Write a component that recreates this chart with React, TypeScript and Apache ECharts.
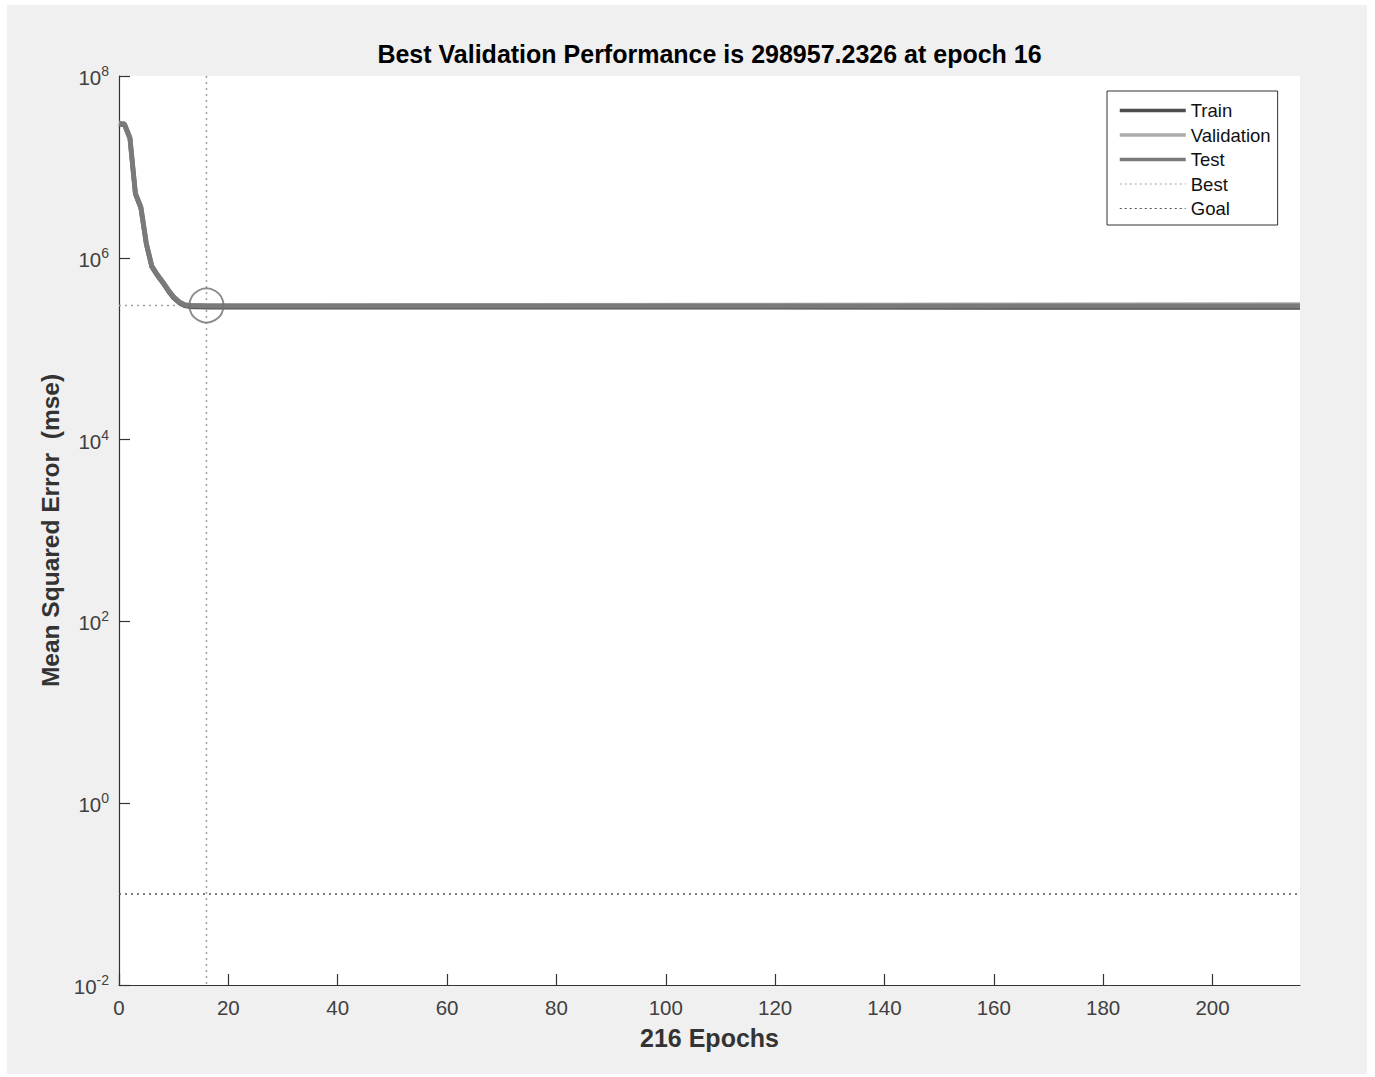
import React, { useEffect, useRef } from "react";
import * as echarts from "echarts";

// ---- data ----
const epochs = [0, 1, 2, 3, 4, 5, 6, 7, 8, 9, 10, 11, 12, 13, 14, 15, 16, 216];
const trainMse = [2.95e7, 2.9e7, 2.05e7, 5.0e6, 3.5e6, 1.4e6, 7.9e5, 6.4e5, 5.3e5, 4.3e5, 3.6e5, 3.2e5, 2.96e5, 2.9e5, 2.88e5, 2.87e5, 2.86e5, 2.84e5];
const validationMse = [3.05e7, 3.0e7, 2.12e7, 5.2e6, 3.65e6, 1.46e6, 8.2e5, 6.6e5, 5.5e5, 4.5e5, 3.75e5, 3.3e5, 3.06e5, 3.01e5, 2.995e5, 2.992e5, 298957.2326, 3.06e5];
const testMse = [3.0e7, 2.95e7, 2.08e7, 5.1e6, 3.6e6, 1.43e6, 8.1e5, 6.5e5, 5.4e5, 4.4e5, 3.7e5, 3.27e5, 3.03e5, 2.97e5, 2.96e5, 2.96e5, 2.95e5, 2.95e5];
const bestEpoch = 16;
const bestPerformance = 298957.2326;
const goalMse = 0.1;
const totalEpochs = 216;
const xTicks = [0, 20, 40, 60, 80, 100, 120, 140, 160, 180, 200];
const yMin = 0.01;
const yMax = 1e8;
const legendNames = ["Train", "Validation", "Test", "Best", "Goal"];
const titleText = `Best Validation Performance is ${bestPerformance.toFixed(4)} at epoch ${bestEpoch}`;

const FONT = "'Liberation Sans', Arial, Helvetica, sans-serif";
const AXIS = "#333333";
const C_TRAIN = "#4d4d4d";
const C_VAL = "#ababab";
const C_TEST = "#7a7a7a";
const C_BEST = "#a0a0a0";
const C_GOAL = "#555555";

export default function App() {
  const ref = useRef<HTMLDivElement>(null);
  useEffect(() => {
    const chart = echarts.init(ref.current!, null, { renderer: "svg" });
    const pairs = (vals: number[]) => epochs.map((e, i) => [e, vals[i]]);
    const legendLine: Record<string, any> = {
      Train: { color: C_TRAIN, width: 3.5 },
      Validation: { color: C_VAL, width: 3.5 },
      Test: { color: C_TEST, width: 3.5 },
      Best: { color: C_BEST, width: 1.2, type: [2, 3] },
      Goal: { color: C_GOAL, width: 1.2, type: [2, 3] },
    };
    const option: any = {
      animation: false,
      backgroundColor: "#f0f0f0",
      textStyle: { fontFamily: FONT },
      grid: {
        show: true,
        left: 112,
        top: 71,
        right: 67,
        bottom: 89,
        backgroundColor: "#ffffff",
        borderWidth: 0,
      },
      graphic: [
        {
          type: "text",
          x: 702.5,
          y: 49,
          style: {
            text: titleText,
            fontFamily: FONT,
            fontSize: 25,
            fontWeight: "bold",
            fill: "#000",
            textAlign: "center",
            textVerticalAlign: "middle",
          },
        },
      ],
      legend: {
        data: legendNames.map((n) => ({ name: n, lineStyle: legendLine[n], itemStyle: { opacity: 0 } })),
        orient: "vertical",
        left: 1100,
        top: 86,
        itemWidth: 66,
        itemHeight: 16,
        itemGap: 5.5,
        padding: [10, 7, 7, 11],
        backgroundColor: "#ffffff",
        borderColor: "#333333",
        borderWidth: 1,
        selectedMode: false,
        itemStyle: { opacity: 0 },
        textStyle: { fontFamily: FONT, fontSize: 18.5, color: "#111", lineHeight: 16 },
      },
      xAxis: {
        type: "value",
        min: 0,
        max: totalEpochs,
        interval: 20,
        name: `${totalEpochs} Epochs`,
        nameLocation: "middle",
        nameGap: 40,
        nameTextStyle: { fontFamily: FONT, fontSize: 25, fontWeight: "bold", color: "#333" },
        axisLine: { show: true, lineStyle: { color: AXIS, width: 1.2 } },
        axisTick: { show: true, inside: true, length: 11, customValues: xTicks, lineStyle: { color: AXIS, width: 1.2 } },
        axisLabel: { customValues: xTicks, margin: 12, fontFamily: FONT, fontSize: 20.5, color: "#404040" },
        splitLine: { show: false },
      },
      yAxis: {
        type: "log",
        logBase: 10,
        min: yMin,
        max: yMax,
        interval: 2,
        name: "Mean Squared Error  (mse)",
        nameLocation: "middle",
        nameGap: 54,
        nameTextStyle: { fontFamily: FONT, fontSize: 24.5, fontWeight: "bold", color: "#333" },
        axisLine: { show: true, lineStyle: { color: AXIS, width: 1.2 } },
        axisTick: { show: true, inside: true, length: 11, lineStyle: { color: AXIS, width: 1.2 } },
        axisLabel: {
          margin: 10,
          formatter: (v: number) => `{b|10}{s|${Math.round(Math.log10(v))}}`,
          rich: {
            b: { fontFamily: FONT, fontSize: 20.5, color: "#404040", lineHeight: 24, verticalAlign: "bottom" },
            s: { fontFamily: FONT, fontSize: 14, color: "#404040", lineHeight: 14, verticalAlign: "top" },
          },
        },
        splitLine: { show: false },
        minorTick: { show: false },
      },
      series: [
        {
          name: "Goal",
          type: "line",
          symbol: "none",
          data: [[0, goalMse], [totalEpochs, goalMse]],
          itemStyle: { color: C_GOAL },
          lineStyle: { color: C_GOAL, width: 1.5, type: [2, 4] },
          z: 2,
        },
        {
          name: "Best",
          type: "line",
          symbol: "none",
          data: [[bestEpoch, yMax], [bestEpoch, yMin]],
          itemStyle: { color: C_BEST },
          lineStyle: { color: C_BEST, width: 1.5, type: [2, 4] },
          z: 2,
        },
        {
          name: "Best",
          type: "line",
          symbol: "none",
          data: [[0, bestPerformance], [bestEpoch, bestPerformance]],
          itemStyle: { color: C_BEST },
          lineStyle: { color: C_BEST, width: 1.5, type: [2, 4] },
          z: 2,
        },
        {
          name: "Train",
          type: "line",
          symbol: "none",
          data: pairs(trainMse),
          itemStyle: { color: C_TRAIN },
          lineStyle: { color: C_TRAIN, width: 4.5 },
          z: 3,
        },
        {
          name: "Validation",
          type: "line",
          symbol: "none",
          data: pairs(validationMse),
          itemStyle: { color: C_VAL },
          lineStyle: { color: C_VAL, width: 4.5 },
          z: 3,
        },
        {
          name: "Test",
          type: "line",
          symbol: "none",
          data: pairs(testMse),
          itemStyle: { color: C_TEST },
          lineStyle: { color: C_TEST, width: 5 },
          z: 3,
        },
        {
          name: "bestMarker",
          type: "scatter",
          symbol: "circle",
          symbolSize: 34,
          data: [[bestEpoch, bestPerformance]],
          itemStyle: { color: "rgba(0,0,0,0)", borderColor: "#707070", borderWidth: 2 },
          z: 4,
        },
      ],
    };
    chart.setOption(option);
    return () => chart.dispose();
  }, []);
  return (
    <div style={{ position: "fixed", left: 0, top: 0, width: 1375, height: 1077, background: "#ffffff" }}>
      <div ref={ref} style={{ position: "absolute", left: 7, top: 5, width: 1360, height: 1069 }} />
    </div>
  );
}
